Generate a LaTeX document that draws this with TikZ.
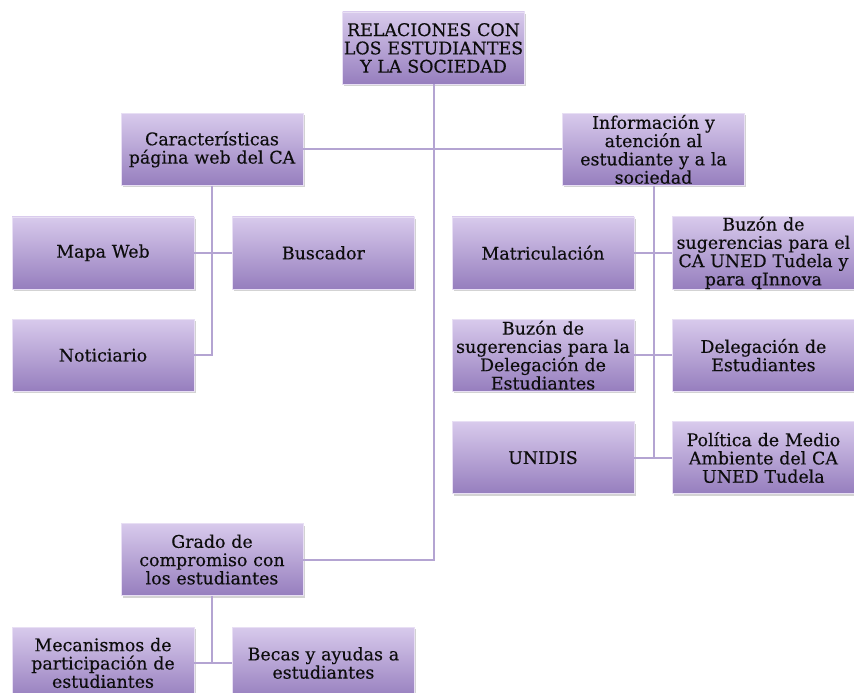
\documentclass[tikz,border=0pt]{standalone}
\usepackage{fontspec}
\setmainfont{DejaVu Serif}[FakeBold=0.35]
\usepackage{tikz}
\usetikzlibrary{positioning, shadows}
\definecolor{lilatop}{RGB}{216,202,236}
\definecolor{lilabot}{RGB}{150,126,190}
\definecolor{lilaline}{RGB}{180,164,210}
\tikzstyle{area} = [rectangle, minimum width=182pt, minimum height=72pt, text width=182pt, inner sep=0pt, align=center, top color=lilatop, bottom color=lilabot, draw=lilatop!60!white, line width=0.4pt, drop shadow={opacity=0.35, shadow xshift=1.5pt, shadow yshift=-2pt}, font=\fontsize{17.4}{18.3}\selectfont, text=black!95]
\tikzstyle{link} = [draw=lilaline, line width=2pt]

\begin{document}
\begin{tikzpicture}[x=1pt, y=1pt]
\useasboundingbox (0,0) rectangle (854,-693);
\clip (0,0) rectangle (854,-693);
\node (root) [area] at (433.5,-48) {RELACIONES CON\\LOS ESTUDIANTES\\Y LA SOCIEDAD};
\node (car) [area, below=29pt of root, xshift=-221.5pt] {Características\\página web del CA};
\node (info) [area, below=29pt of root, xshift=220pt] {Información y\\atención al\\estudiante y a la\\sociedad};
% left group
\node (mapa) [area, below=31pt of car, xshift=-109pt] {Mapa Web};
\node (busc) [area, right=38pt of mapa] {Buscador};
\node (noti) [area, below=30pt of mapa] {Noticiario};
% right group
\node (matr) [area, below=31pt of info, xshift=-110.5pt] {Matriculación};
\node (buzca) [area, right=38pt of matr] {Buzón de\\sugerencias para el\\CA UNED Tudela y\\para qInnova};
\node (buzdel) [area, below=30pt of matr] {Buzón de\\sugerencias para la\\Delegación de\\Estudiantes};
\node (dele) [area, right=38pt of buzdel] {Delegación de\\Estudiantes};
\node (unidis) [area, below=30pt of buzdel] {UNIDIS};
\node (poli) [area, right=38pt of unidis] {Política de Medio\\Ambiente del CA\\UNED Tudela};
% bottom group
\node (grado) [area, below=132pt of noti, xshift=109pt] {Grado de\\compromiso con\\los estudiantes};
\node (meca) [area, below=31pt of grado, xshift=-109pt] {Mecanismos de\\participación de\\estudiantes};
\node (becas) [area, right=38pt of meca] {Becas y ayudas a\\estudiantes};
\draw [link] (root.south) |- (grado.east);
\draw [link] (car.east) -- (info.west);
\draw [link] (car.south) |- (noti.east);
\draw [link] (mapa.east) -- (busc.west);
\draw [link] (info.south) -- (info.south |- unidis.east);
\draw [link] (matr.east) -- (buzca.west);
\draw [link] (buzdel.east) -- (dele.west);
\draw [link] (unidis.east) -- (poli.west);
\draw [link] (grado.south) -- (grado.south |- meca.east);
\draw [link] (meca.east) -- (becas.west);
\end{tikzpicture}
\end{document}
